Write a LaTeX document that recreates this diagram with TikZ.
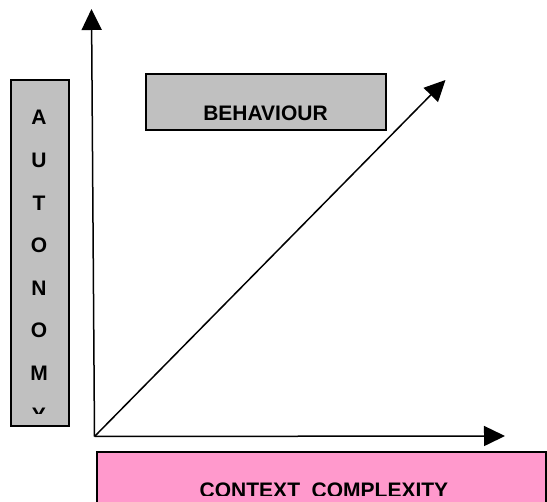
\documentclass[tikz,border=0pt]{standalone}
\usepackage{fontspec}
\setmainfont{Liberation Sans}
\usetikzlibrary{arrows.meta}
\definecolor{boxgray}{HTML}{C0C0C0}
\definecolor{boxpink}{HTML}{FF99CC}
\tikzset{
  axis/.style={line width=1.5pt, -{Triangle[length=21pt,width=20pt]}},
  graybox/.style={draw=black, line width=1.6pt, fill=boxgray},
  pinkbox/.style={draw=black, line width=1.6pt, fill=boxpink},
  lbl/.style={font=\fontsize{21}{25}\selectfont\bfseries, inner sep=0pt, anchor=base},
}
\begin{document}
\begin{tikzpicture}[x=1pt,y=-1pt]
\useasboundingbox (0,0) rectangle (547,502);
\clip (0,0) rectangle (547,502);
% boxes
\path[graybox] (11,80) rectangle (69,426);
\path[graybox] (146,74) rectangle (386,130);
\path[pinkbox] (97,452) rectangle (546,530);
% autonomy letters
\begin{scope}
\clip (11,80) rectangle (69,414);
\node[lbl] (a1) at (39,125) {A};
\node[lbl] (a2) at (39,167.6) {U};
\node[lbl] (a3) at (39,210.1) {T};
\node[lbl] (a4) at (39,252.7) {O};
\node[lbl] (a5) at (39,295.3) {N};
\node[lbl] (a6) at (39,337.8) {O};
\node[lbl] (a7) at (39,380.4) {M};
\node[lbl] (a8) at (39,423) {Y};
\end{scope}
\node[lbl] (beh) at (265.5,121) {BEHAVIOUR};
\begin{scope}
\clip (97,452) rectangle (546,496);
\node[lbl] (ctx) at (324,498) {CONTEXT\ \ COMPLEXITY};
\end{scope}
% axes
\coordinate (o) at (94.5,436.5);
\coordinate (ytip) at (91.5,9);
\coordinate (xtip) at (505,436);
\coordinate (dtip) at (445.5,80);
\draw[axis] (o) -- (ytip);
\draw[axis] (o) -- (xtip);
\draw[axis] (o) -- (dtip);
\end{tikzpicture}
\end{document}
